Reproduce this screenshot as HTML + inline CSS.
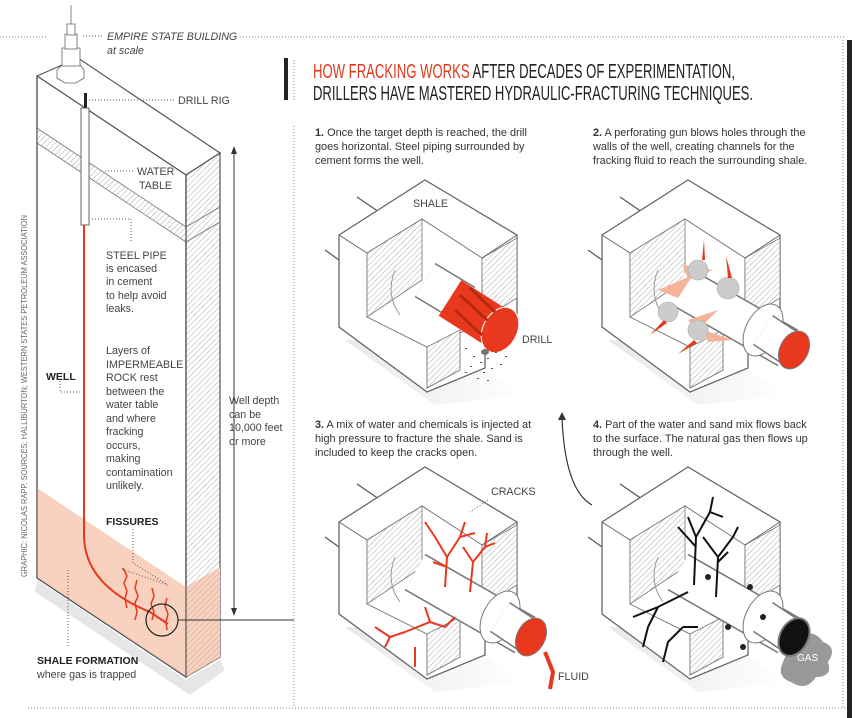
<!DOCTYPE html>
<html><head><meta charset="utf-8"><style>
html,body{margin:0;padding:0;background:#fff;}
svg{display:block;}
text{font-family:"Liberation Sans",sans-serif;}
.b{font-size:10.7px;fill:#444;}
.s{font-size:10.9px;fill:#333;}
.n{font-family:"Liberation Sans Narrow","Liberation Sans",sans-serif;}
</style></head><body>
<svg width="863" height="718" viewBox="0 0 863 718" xmlns="http://www.w3.org/2000/svg">
<defs>
<pattern id="h" width="4" height="4" patternUnits="userSpaceOnUse" patternTransform="rotate(45)">
<rect width="4" height="4" fill="#fff"/><line x1="0" y1="0" x2="0" y2="4" stroke="#aaa" stroke-width="1"/></pattern>
<pattern id="hp" width="4" height="4" patternUnits="userSpaceOnUse" patternTransform="rotate(45)">
<rect width="4" height="4" fill="#f9d2bf"/><line x1="0" y1="0" x2="0" y2="4" stroke="#c9a898" stroke-width="1"/></pattern>
<linearGradient id="sh" x1="0" y1="0" x2="1" y2="0"><stop offset="0" stop-color="#e8e8e8"/><stop offset="1" stop-color="#fff"/></linearGradient>
<g id="box">
 <polygon points="-80,160 10,225 100,215 20,165" fill="url(#sh)"/>
 <line x1="-68" y1="17" x2="-46" y2="32" stroke="#555" stroke-width="1.2"/>
 <line x1="-100" y1="70" x2="-86" y2="80" stroke="#555" stroke-width="1.2"/>
 <polygon points="-86,55 0,0 92,55 92,135 60,155 60,188 2,212 -86,147" fill="#fff" stroke="#666" stroke-width="1.3"/>
 <polygon points="-58,73 -3,39 57,78 57,140 35,153 35,190 2,208 2,167 -58,137" fill="#fff" stroke="#777" stroke-width="1"/>
 <polygon points="-58,73 -3,39 -3,100 -58,137" fill="url(#h)" stroke="#777" stroke-width="0.8"/>
 <polygon points="57,78 92,58 92,118 57,140" fill="url(#h)" stroke="#777" stroke-width="0.8"/>
 <polygon points="2,167 35,150 35,190 2,208" fill="url(#h)" stroke="#777" stroke-width="0.8"/>
 <line x1="-86" y1="55" x2="-58" y2="73" stroke="#666"/>
 <line x1="92" y1="55" x2="57" y2="78" stroke="#666"/>
 <path d="M-30,90 Q-40,115 -25,135" fill="none" stroke="#999"/>
</g>
<g id="pipe">
 <line x1="-10" y1="105" x2="100" y2="168" stroke="#777" stroke-width="42"/>
 <line x1="-10" y1="105" x2="100" y2="168" stroke="#fff" stroke-width="39"/>
 <ellipse cx="75" cy="150" rx="17" ry="28" transform="rotate(28 75 150)" fill="#fff" stroke="#777"/>
 <line x1="75" y1="150" x2="108" y2="172" stroke="#777" stroke-width="36"/>
 <line x1="75" y1="150" x2="108" y2="172" stroke="#fff" stroke-width="33"/>
</g>
</defs>

<line x1="0" y1="37" x2="46" y2="37" stroke="#888" stroke-dasharray="1,2"/>
<line x1="240" y1="37" x2="845" y2="37" stroke="#888" stroke-dasharray="1,2"/>
<line x1="28" y1="708" x2="845" y2="708" stroke="#888" stroke-dasharray="1,2"/>
<line x1="843" y1="40" x2="843" y2="708" stroke="#888" stroke-dasharray="1,2"/>
<rect x="847" y="40" width="5" height="678" fill="#222"/>
<line x1="294" y1="60" x2="294" y2="100" stroke="#888" stroke-dasharray="1,2"/>
<line x1="294" y1="126" x2="294" y2="708" stroke="#888" stroke-dasharray="1,2"/>
<rect x="284" y="58" width="4" height="42" fill="#222"/>

<text class="n" x="313" y="78" font-size="20" textLength="422" lengthAdjust="spacingAndGlyphs"><tspan fill="#e03a1e">HOW FRACKING WORKS</tspan><tspan fill="#222"> AFTER DECADES OF EXPERIMENTATION,</tspan></text>
<text class="n" x="313" y="100" font-size="20" fill="#222" textLength="440" lengthAdjust="spacingAndGlyphs">DRILLERS HAVE MASTERED HYDRAULIC-FRACTURING TECHNIQUES.</text>

<text class="s" x="315" y="136"><tspan font-weight="bold">1.</tspan> Once the target depth is reached, the drill</text>
<text class="s" x="315" y="150">goes horizontal. Steel piping surrounded by</text>
<text class="s" x="315" y="164">cement forms the well.</text>
<text class="s" x="593" y="136"><tspan font-weight="bold">2.</tspan> A perforating gun blows holes through the</text>
<text class="s" x="593" y="150">walls of the well, creating channels for the</text>
<text class="s" x="593" y="164">fracking fluid to reach the surrounding shale.</text>
<text class="s" x="315" y="428"><tspan font-weight="bold">3.</tspan> A mix of water and chemicals is injected at</text>
<text class="s" x="315" y="442">high pressure to fracture the shale. Sand is</text>
<text class="s" x="315" y="456">included to keep the cracks open.</text>
<text class="s" x="593" y="428"><tspan font-weight="bold">4.</tspan> Part of the water and sand mix flows back</text>
<text class="s" x="593" y="442">to the surface. The natural gas then flows up</text>
<text class="s" x="593" y="456">through the well.</text>

<path d="M592,505 Q565,490 562,418" fill="none" stroke="#333" stroke-width="1.2"/>
<polygon points="562,412 558,420 566,420" fill="#333"/>

<g transform="translate(425,180)">
 <use href="#box"/>
 <line x1="0" y1="100" x2="40" y2="124" stroke="#777" stroke-width="40"/>
 <line x1="0" y1="100" x2="40" y2="124" stroke="#fff" stroke-width="37"/>
 <line x1="25" y1="118" x2="72" y2="148" stroke="#e8391f" stroke-width="42"/>
 <ellipse cx="75" cy="150" rx="17" ry="24" transform="rotate(28 75 150)" fill="#e8391f" stroke="#fff"/>
 <path d="M35,115 L62,140 M45,108 L70,132 M30,130 L57,155" stroke="#b82812" stroke-width="3"/>
 <ellipse cx="60" cy="172" rx="4" ry="3" fill="#777"/>
 <g fill="#555">
  <rect x="40" y="168" width="2" height="1"/><rect x="48" y="176" width="2" height="1"/><rect x="55" y="182" width="2" height="1"/><rect x="62" y="178" width="2" height="1"/><rect x="70" y="172" width="2" height="1"/><rect x="45" y="186" width="2" height="1"/><rect x="58" y="192" width="2" height="1"/><rect x="66" y="188" width="2" height="1"/><rect x="52" y="198" width="2" height="1"/><rect x="75" y="184" width="2" height="1"/><rect x="62" y="200" width="2" height="1"/><rect x="40" y="192" width="2" height="1"/><rect x="80" y="176" width="2" height="1"/>
 </g>
</g>
<text class="b" x="413" y="207">SHALE</text>
<text class="b" x="522" y="343">DRILL</text>

<g transform="translate(688,180)">
 <use href="#box"/>
 <use href="#pipe"/>
 <ellipse cx="106" cy="170" rx="14" ry="20" transform="rotate(28 106 170)" fill="#e8391f" stroke="#777"/>
 <g fill="#f5b49a">
  <polygon points="-30,110 5,95 -10,118"/><polygon points="0,140 30,130 10,150"/><polygon points="-5,85 25,90 0,100"/><polygon points="15,150 45,160 20,162"/>
 </g>
 <g fill="#ccc" stroke="#aaa" stroke-width="0.6">
  <circle cx="10" cy="90" r="10"/><circle cx="40" cy="108" r="11"/><circle cx="-20" cy="132" r="10"/><circle cx="10" cy="150" r="10"/>
 </g>
 <g fill="#e8391f">
  <polygon points="14,80 17,80 16,60"/><polygon points="40,98 44,98 38,76"/><polygon points="-24,140 -21,143 -38,155"/><polygon points="6,160 9,163 -10,174"/>
 </g>
</g>

<g transform="translate(425,467)">
 <use href="#box"/>
 <use href="#pipe"/>
 <ellipse cx="106" cy="170" rx="14" ry="20" transform="rotate(28 106 170)" fill="#e8391f" stroke="#777"/>
 <g stroke="#e8391f" fill="none" stroke-width="2">
  <path d="M20,120 L22,90 L10,70 M22,90 L35,70 L40,55 M35,70 L50,66 M10,70 L0,55 M22,100 L8,95"/>
  <path d="M45,125 L48,95 L60,80 M48,95 L38,80 M60,80 L62,66 M60,80 L70,76"/>
  <path d="M-20,165 L5,155 L20,160 M5,155 L0,140 M-20,165 L-35,170 L-40,180 M-35,170 L-50,160 M-10,180 L-10,200 M20,160 L30,150"/>
 </g>
 <path d="M120,185 L128,205 L125,222" stroke="#e8391f" stroke-width="4" fill="none"/>
</g>
<text class="b" x="491" y="495">CRACKS</text>
<line x1="488" y1="500" x2="470" y2="512" stroke="#666" stroke-dasharray="1,2"/>
<text class="b" x="558" y="680">FLUID</text>

<g transform="translate(688,467)">
 <use href="#box"/>
 <path d="M105,170 q20,-10 30,5 q15,5 5,20 q5,15 -12,15 q-10,15 -25,5 q-15,-5 -8,-20 z" fill="#999"/>
 <use href="#pipe"/>
 <ellipse cx="106" cy="170" rx="14" ry="20" transform="rotate(28 106 170)" fill="#111" stroke="#777" stroke-width="2"/>
 <g fill="#222"><circle cx="62" cy="120" r="3"/><circle cx="75" cy="150" r="3"/><circle cx="40" cy="160" r="3"/><circle cx="20" cy="110" r="3"/><circle cx="55" cy="180" r="3"/></g>
 <g stroke="#111" fill="none" stroke-width="2">
  <path d="M6,118 L8,70 L0,50 M8,70 L22,45 L25,30 M8,80 L-10,60 M22,45 L35,50"/>
  <path d="M28,130 L30,90 L15,70 M30,90 L45,70 L50,60 M30,95 L40,85"/>
  <path d="M-55,150 L-30,140 L-10,130 M-30,140 L-40,160 L-45,180 M-10,130 L0,125 M-5,160 L-20,175 L-25,195 M-5,160 L10,160"/>
 </g>
</g>
<text x="797" y="661" font-size="10" fill="#fff">GAS</text>

<polygon points="37,580 186,680 220,660 225,670 190,695 35,592" fill="#e6e6e6"/>
<polygon points="37,76 78,58 220,153 186,175" fill="#fff" stroke="#555" stroke-width="1.2"/>
<polygon points="37,76 186,175 186,677 37,578" fill="#fff" stroke="#555" stroke-width="1.2"/>
<polygon points="186,175 220,153 220,657 186,677" fill="url(#h)" stroke="#555" stroke-width="1.2"/>
<polygon points="37,488 186,587 186,677 37,578" fill="#f9d2bf"/>
<polygon points="186,587 220,567 220,657 186,677" fill="url(#hp)"/>
<polygon points="37,128 186,227 186,242 37,143" fill="url(#h)" stroke="#777" stroke-width="0.8"/>
<line x1="186" y1="227" x2="220" y2="207" stroke="#777"/>
<line x1="186" y1="242" x2="220" y2="222" stroke="#777"/>
<line x1="37" y1="76" x2="37" y2="578" stroke="#555" stroke-width="1.2"/>
<line x1="186" y1="175" x2="186" y2="677" stroke="#555" stroke-width="1.2"/>
<line x1="37" y1="578" x2="186" y2="677" stroke="#555" stroke-width="1.2"/>
<g fill="#fff" stroke="#666" stroke-width="0.8">
 <polygon points="57,70 62,65 80,65 84,70 84,78 76,83 65,83 57,78"/>
 <rect x="62" y="48" width="18" height="18"/>
 <rect x="65" y="34" width="12" height="15"/>
 <rect x="67" y="24" width="8" height="11"/>
 <line x1="71" y1="5" x2="71" y2="24"/>
</g>
<rect x="84" y="93" width="3" height="16" fill="#222"/>
<rect x="81" y="108" width="8" height="117" fill="#fff" stroke="#666"/>
<path d="M84,225 L84,535 Q84,585 150,612 L168,624" fill="none" stroke="#e8391f" stroke-width="2"/>
<g stroke="#e8391f" fill="none" stroke-width="1.5">
 <path d="M123,568 l4,8 l-3,7 l3,8 l-2,8 l2,9"/>
 <path d="M137,580 l-2,8 l3,8 l-3,7 l2,9 l-2,8"/>
 <path d="M152,588 l2,8 l-3,8 l3,8 l-2,8"/>
 <path d="M167,598 l-2,8 l3,8 l-2,8 l1,8"/>
</g>
<circle cx="162" cy="620" r="16" fill="none" stroke="#222" stroke-width="1.2"/>
<line x1="178" y1="620" x2="294" y2="620" stroke="#333" stroke-width="1"/>
<line x1="234" y1="150" x2="234" y2="612" stroke="#333"/>
<polygon points="234,146 231,154 237,154" fill="#333"/>
<polygon points="234,616 231,608 237,608" fill="#333"/>

<g stroke="#555" stroke-dasharray="1,2" fill="none">
 <line x1="83" y1="36" x2="102" y2="36"/>
 <line x1="89" y1="100" x2="174" y2="100"/>
 <line x1="105" y1="171" x2="135" y2="171"/>
 <polyline points="92,219 131,219 131,242"/>
 <polyline points="60,381 60,392 80,392"/>
 <polyline points="133,529 133,563 168,585"/>
 <polyline points="122,569 168,585"/>
 <line x1="68" y1="570" x2="68" y2="648"/>
</g>
<text class="b" x="107" y="40" font-style="italic">EMPIRE STATE BUILDING</text>
<text class="b" x="107" y="54" font-style="italic">at scale</text>
<text class="b" x="178" y="104">DRILL RIG</text>
<text class="b" x="137" y="175">WATER</text>
<text class="b" x="139" y="189">TABLE</text>
<g class="b">
<text x="106" y="259">STEEL PIPE</text><text x="106" y="272">is encased</text><text x="106" y="285">in cement</text><text x="106" y="299">to help avoid</text><text x="106" y="312">leaks.</text>
<text x="106" y="354">Layers of</text><text x="106" y="368">IMPERMEABLE</text><text x="106" y="381">ROCK rest</text><text x="106" y="395">between the</text><text x="106" y="408">water table</text><text x="106" y="422">and where</text><text x="106" y="435">fracking</text><text x="106" y="449">occurs,</text><text x="106" y="462">making</text><text x="106" y="476">contamination</text><text x="106" y="489">unlikely.</text>
<text x="229" y="404">Well depth</text><text x="229" y="418">can be</text><text x="229" y="431">10,000 feet</text><text x="229" y="445">or more</text>
</g>
<text x="46" y="380" font-size="10.5" font-weight="bold" fill="#222">WELL</text>
<text x="106" y="525" font-size="10.5" font-weight="bold" fill="#222">FISSURES</text>
<text x="37" y="664" font-size="10.5" font-weight="bold" fill="#222">SHALE FORMATION</text>
<text class="b" x="37" y="678">where gas is trapped</text>
<text transform="translate(27,577) rotate(-90)" font-size="8.5" fill="#666" textLength="362" lengthAdjust="spacingAndGlyphs">GRAPHIC: NICOLAS RAPP. SOURCES: HALLIBURTON; WESTERN STATES PETROLEUM ASSOCIATION</text>
</svg>
</body></html>
